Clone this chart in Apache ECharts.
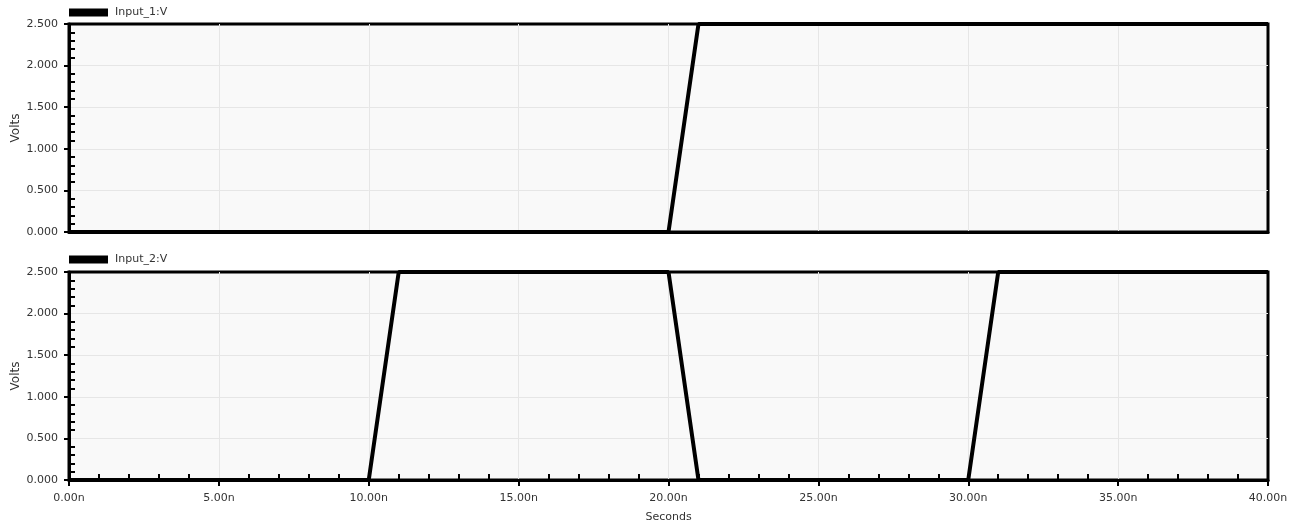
<!DOCTYPE html>
<html>
<head>
<meta charset="utf-8">
<script src="https://cdn.jsdelivr.net/npm/echarts@6/dist/echarts.min.js"></script>
<style>
html,body{margin:0;padding:0;background:#fff;}
#c{width:1305px;height:529px;}
</style>
</head>
<body>
<div id="c"></div>
<script>
// Data (time in ns, voltage in V)
const in1Name = 'Input_1:V';
const in1Time = [0, 20, 21, 40];
const in1Volt = [0, 0, 2.5, 2.5];
const in2Name = 'Input_2:V';
const in2Time = [0, 10, 11, 20, 21, 30, 31, 40];
const in2Volt = [0, 0, 2.5, 2.5, 0, 0, 2.5, 2.5];
const xMin = 0, xMax = 40, xStep = 5;
const yMin = 0, yMax = 2.5, yStep = 0.5;
const xTitle = 'Seconds';
const yTitle = 'Volts';

const pair = (t, v) => t.map((x, i) => [x, v[i]]);
const font = 'DejaVu Sans, Verdana, sans-serif';
const txt = '#333';
const gridLine = { show: true, showMinLine: false, showMaxLine: false, lineStyle: { color: '#e6e6e6', width: 1 } };

function yMain(grid) {
  return {
    type: 'value', gridIndex: grid, position: 'left', min: yMin, max: yMax, interval: yStep,
    name: yTitle, nameLocation: 'middle', nameGap: 47, nameMoveOverlap: false,
    nameTextStyle: { fontFamily: font, fontSize: 12, color: txt },
    axisLine: { show: true, lineStyle: { color: '#000', width: 3 } },
    axisTick: { show: true, inside: false, length: 5, lineStyle: { color: '#000', width: 2 } },
    axisLabel: { margin: 11, fontFamily: font, fontSize: 11, color: txt, formatter: v => v.toFixed(3) },
    splitLine: gridLine,
    minorTick: { show: false }
  };
}
function yMinor(grid) {
  return {
    type: 'value', gridIndex: grid, position: 'left', min: yMin, max: yMax, interval: yStep,
    axisLine: { show: false }, axisLabel: { show: false }, splitLine: { show: false },
    axisTick: { show: false, inside: true },
    minorTick: { show: true, splitNumber: 5, length: 6, lineStyle: { color: '#000', width: 2 } }
  };
}
function xMain(grid, labels) {
  return {
    type: 'value', gridIndex: grid, position: 'bottom', min: xMin, max: xMax, interval: xStep,
    name: labels ? xTitle : '', nameLocation: 'middle', nameGap: 32,
    nameTextStyle: { fontFamily: font, fontSize: 11, color: txt },
    axisLine: { show: true, lineStyle: { color: '#000', width: 3 } },
    axisTick: { show: labels, inside: false, length: 6, lineStyle: { color: '#000', width: 2 } },
    axisLabel: { show: labels, margin: 13, fontFamily: font, fontSize: 11, color: txt, formatter: v => v.toFixed(2) + 'n' },
    splitLine: gridLine
  };
}
function xMinor(grid) {
  return {
    type: 'value', gridIndex: grid, position: 'bottom', min: xMin, max: xMax, interval: xStep,
    axisLine: { show: false }, axisLabel: { show: false }, splitLine: { show: false },
    axisTick: { show: false, inside: true },
    minorTick: { show: true, splitNumber: 5, length: 6, lineStyle: { color: '#000', width: 2 } }
  };
}
function legend(name, top) {
  return {
    data: [name], left: 64, top: top, icon: 'rect', itemWidth: 39, itemHeight: 8, itemGap: 0,
    textStyle: { fontFamily: font, fontSize: 11, color: txt, padding: [0, 0, 0, 2] }, selectedMode: false
  };
}
function line(name, data, xi, yi) {
  return {
    name: name, type: 'line', data: data, xAxisIndex: xi, yAxisIndex: yi,
    showSymbol: false, symbol: 'none', clip: false, animation: false,
    lineStyle: { color: '#000', width: 4 }, itemStyle: { color: '#000' }
  };
}
function grid(top) {
  return {
    left: 69, top: top, width: 1199, height: 208, containLabel: false, outerBoundsMode: 'none',
    show: true, backgroundColor: '#f9f9f9', borderColor: '#000', borderWidth: 3
  };
}

const chart = echarts.init(document.getElementById('c'), null, { renderer: 'canvas' });
chart.setOption({
  animation: false,
  backgroundColor: '#fff',
  grid: [grid(24), grid(272)],
  legend: [legend(in1Name, 2), legend(in2Name, 249)],
  xAxis: [xMain(0, false), xMain(1, true), xMinor(1)],
  yAxis: [yMain(0), yMinor(0), yMain(1), yMinor(1)],
  series: [
    line(in1Name, pair(in1Time, in1Volt), 0, 0),
    line(in2Name, pair(in2Time, in2Volt), 1, 2)
  ]
});
</script>
</body>
</html>
